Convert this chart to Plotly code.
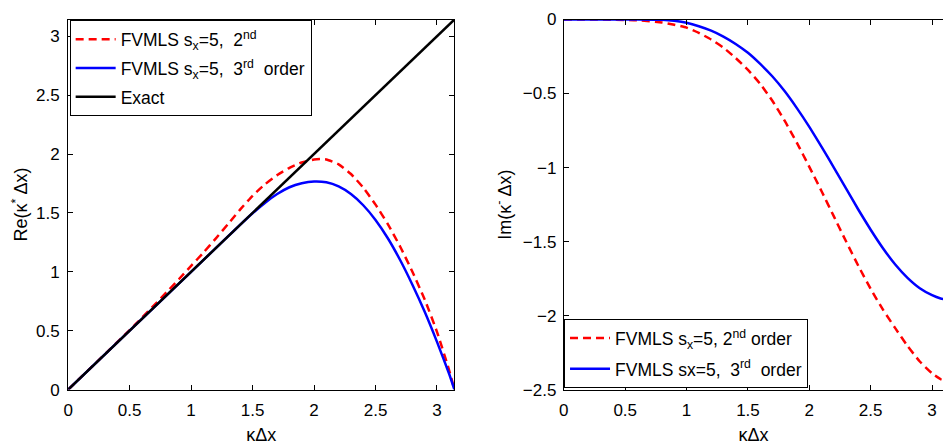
import math
import plotly.graph_objects as go

PI = math.pi
# Left panel: real part of modified wavenumber
re_x_exact = [0, PI]
re_y_exact = [0, PI]
re_x_2nd = [0, 0.5, 0.6, 0.7, 0.8, 0.9, 1.0, 1.1, 1.2, 1.3, 1.4, 1.5, 1.6, 1.7, 1.8, 1.9, 2.0, 2.05, 2.1, 2.2, 2.3, 2.4, 2.5, 2.6, 2.7, 2.8, 2.9, 3.0, 3.1, PI]
re_y_2nd = [0, 0.505, 0.61, 0.717, 0.826, 0.937, 1.05, 1.163, 1.282, 1.405, 1.53, 1.645, 1.742, 1.821, 1.883, 1.928, 1.953, 1.957, 1.953, 1.912, 1.83, 1.715, 1.57, 1.405, 1.215, 1.0, 0.765, 0.49, 0.16, 0]
re_x_3rd = [0, 0.5, 1.0, 1.3, 1.4, 1.5, 1.6, 1.7, 1.8, 1.9, 2.0, 2.1, 2.2, 2.3, 2.4, 2.5, 2.6, 2.7, 2.8, 2.9, 3.0, 3.1, PI]
re_y_3rd = [0, 0.5, 1.0, 1.30, 1.40, 1.497, 1.585, 1.66, 1.718, 1.752, 1.767, 1.76, 1.725, 1.66, 1.565, 1.44, 1.285, 1.10, 0.89, 0.66, 0.405, 0.13, 0]

# Right panel: imaginary part
im_x_2nd = [0, 0.4, 0.6, 0.8, 0.9, 1.0, 1.1, 1.2, 1.3, 1.4, 1.5, 1.6, 1.7, 1.8, 1.9, 2.0, 2.1, 2.2, 2.3, 2.4, 2.5, 2.6, 2.7, 2.8, 2.9, 3.0, 3.07, PI]
im_y_2nd = [0, -0.001, -0.005, -0.02, -0.035, -0.055, -0.09, -0.135, -0.19, -0.26, -0.34, -0.435, -0.55, -0.685, -0.835, -0.995, -1.16, -1.33, -1.50, -1.665, -1.82, -1.96, -2.085, -2.205, -2.31, -2.39, -2.43, -2.45]
im_x_3rd = [0, 0.6, 0.8, 0.9, 1.0, 1.1, 1.2, 1.3, 1.4, 1.5, 1.6, 1.7, 1.8, 1.9, 2.0, 2.1, 2.2, 2.3, 2.4, 2.5, 2.6, 2.7, 2.8, 2.9, 3.0, 3.07, PI]
im_y_3rd = [0, 0, -0.002, -0.009, -0.022, -0.045, -0.075, -0.115, -0.165, -0.225, -0.30, -0.385, -0.485, -0.60, -0.725, -0.86, -1.0, -1.143, -1.285, -1.42, -1.545, -1.655, -1.745, -1.815, -1.862, -1.884, -1.895]

x_ticks = [0, 0.5, 1, 1.5, 2, 2.5, 3]
x_ticklabels = ["0", "0.5", "1", "1.5", "2", "2.5", "3"]
re_ticks = [0, 0.5, 1, 1.5, 2, 2.5, 3]
re_ticklabels = ["0", "0.5", "1", "1.5", "2", "2.5", "3"]
im_ticks = [0, -0.5, -1, -1.5, -2, -2.5]
im_ticklabels = ["0", "\u22120.5", "\u22121", "\u22121.5", "\u22122", "\u22122.5"]

FONT = "Liberation Sans, Arial, sans-serif"
W, H = 943, 447
DASH = "8px,5px"
SPL = dict(shape="spline", smoothing=0.5)

fig = go.Figure()
fig.add_trace(go.Scatter(x=re_x_2nd, y=re_y_2nd, mode="lines", line=dict(color="#ff0000", width=2.5, dash=DASH, **SPL),
                         name="FVMLS s<sub>x</sub>=5,\u00a0 2<sup>nd</sup>", xaxis="x", yaxis="y", legend="legend", legendgroup="a"))
fig.add_trace(go.Scatter(x=re_x_3rd, y=re_y_3rd, mode="lines", line=dict(color="#0000ff", width=2.5, **SPL),
                         name="FVMLS s<sub>x</sub>=5,\u00a0 3<sup>rd</sup>\u00a0 order", xaxis="x", yaxis="y", legend="legend", legendgroup="b"))
fig.add_trace(go.Scatter(x=re_x_exact, y=re_y_exact, mode="lines", line=dict(color="#000000", width=2.5),
                         name="Exact", xaxis="x", yaxis="y", legend="legend", legendgroup="c"))
fig.add_trace(go.Scatter(x=im_x_2nd, y=im_y_2nd, mode="lines", line=dict(color="#ff0000", width=2.5, dash=DASH, **SPL),
                         name="FVMLS s<sub>x</sub>=5, 2<sup>nd</sup> order", xaxis="x2", yaxis="y2", legend="legend2", legendgroup="d"))
fig.add_trace(go.Scatter(x=im_x_3rd, y=im_y_3rd, mode="lines", line=dict(color="#0000ff", width=2.5, **SPL),
                         name="FVMLS sx=5,\u00a0 3<sup>rd</sup>\u00a0 order", xaxis="x2", yaxis="y2", legend="legend2", legendgroup="e"))

ydom = [1 - 397.5 / H, 1 - 11 / H]
axis_common = dict(showline=True, linecolor="black", linewidth=1, ticks="inside", ticklen=5, tickcolor="black",
                   showgrid=False, zeroline=False, tickfont=dict(family=FONT, size=17, color="black"))

fig.update_layout(
    width=W, height=H, margin=dict(l=0, r=0, t=0, b=0),
    paper_bgcolor="white", plot_bgcolor="white",
    font=dict(family=FONT, size=17, color="black"),
    xaxis=dict(domain=[63.5 / W, 451.8 / W], range=[0, PI], tickvals=x_ticks, ticktext=x_ticklabels,
               mirror="ticks", anchor="y", ticklabelstandoff=5,
               title=dict(text="\u03baΔx", standoff=9, font=dict(size=18)), **axis_common),
    yaxis=dict(domain=ydom, range=[0, PI], tickvals=re_ticks, ticktext=re_ticklabels, mirror="ticks", anchor="x",
               ticklabelstandoff=4,
               title=dict(text="Re(\u03ba<sup>*</sup> Δx)", standoff=3, font=dict(size=18)), **axis_common),
    xaxis2=dict(domain=[561.8 / W, 1.0], range=[0, (943 - 561.8) / 123.4], tickvals=x_ticks, ticktext=x_ticklabels,
                mirror="ticks", anchor="y2", ticklabelstandoff=5,
                title=dict(text="\u03baΔx", standoff=9, font=dict(size=18)), **axis_common),
    yaxis2=dict(domain=ydom, range=[-2.5, 0], tickvals=im_ticks, ticktext=im_ticklabels, mirror=False, anchor="x2",
                ticklabelstandoff=3,
                title=dict(text="Im(\u03ba<sup>-</sup> Δx)", standoff=6, font=dict(size=18)), **axis_common),
    legend=dict(x=65 / W, y=1 - 12 / H, xanchor="left", yanchor="top", bgcolor="white", bordercolor="black", borderwidth=1,
                font=dict(family=FONT, size=17.5), tracegroupgap=3, itemwidth=40),
    legend2=dict(x=562 / W, y=1 - 396 / H, xanchor="left", yanchor="bottom", bgcolor="white", bordercolor="black", borderwidth=1,
                 font=dict(family=FONT, size=17.5), tracegroupgap=5, itemwidth=40),
)

fig.write_html("out.html")
